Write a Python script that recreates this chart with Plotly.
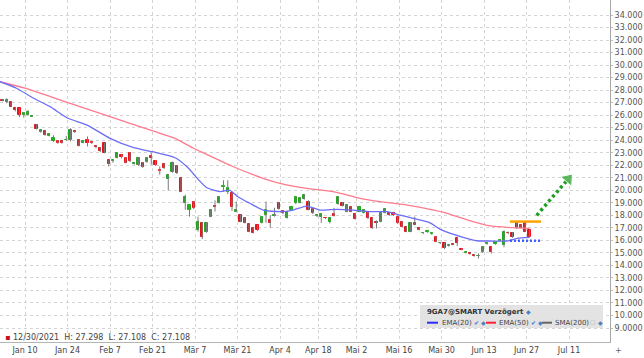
import pandas as pd
import plotly.graph_objects as go

# ---------------- data ----------------
holidays = ["2021-12-31", "2022-04-15", "2022-04-18"]
calendar = [d for d in pd.bdate_range("2021-12-30", "2022-07-29")
            if d.strftime("%Y-%m-%d") not in holidays]
cal_str = [d.strftime("%Y-%m-%d") for d in calendar]

opens = [27.20, 27.05, 27.07, 26.55, 26.55, 26.00, 26.02, 25.88, 25.20, 24.66,
         24.76, 24.36, 23.97, 23.95, 23.95, 23.98, 23.98, 24.72, 24.00, 23.80,
         24.00, 23.85, 23.52, 23.40, 23.78, 22.40, 22.35, 22.60, 22.80, 22.60,
         23.00, 22.10, 22.00, 22.20, 22.25, 22.70, 22.36, 21.65, 22.10, 20.90,
         21.48, 21.94, 21.00, 19.00, 18.40, 19.10, 16.83, 17.36, 16.70, 17.90,
         18.75, 19.00, 20.25, 19.90, 19.75, 18.30, 18.00, 17.80, 17.30, 17.00,
         17.20, 17.40, 18.00, 17.60, 17.98, 19.00, 18.37, 17.80, 18.40, 18.96,
         19.00, 19.30, 19.10, 18.50, 17.98, 17.90, 17.82, 17.50, 18.10, 18.90,
         19.00, 18.30, 18.66, 18.10, 18.30, 18.20, 18.30, 17.76, 17.45, 17.50,
         18.20, 18.20, 18.20, 17.84, 17.50, 17.10, 16.70, 17.35, 16.95, 16.58,
         16.66, 16.53, 16.30, 15.77, 15.76, 15.57, 15.72, 16.17, 15.33, 15.02,
         14.98, 14.85, 14.72, 15.10, 15.72, 15.45, 15.70, 15.98, 15.63, 16.62,
         16.60, 17.40, 17.20, 17.36, 16.80]
highs = [27.298, 27.35, 27.10, 26.60, 26.60, 26.25, 26.40, 25.95, 25.25, 24.82,
         24.80, 24.55, 24.40, 24.00, 23.98, 24.35, 24.95, 24.75, 24.05, 23.98,
         24.30, 23.90, 23.55, 23.45, 23.80, 22.45, 22.45, 23.00, 22.85, 22.65,
         23.05, 22.25, 22.65, 22.25, 22.65, 23.00, 22.40, 21.90, 22.15, 21.30,
         22.30, 22.00, 21.05, 19.65, 18.90, 19.15, 17.90, 17.45, 17.45, 18.50,
         19.20, 19.50, 20.80, 20.80, 19.80, 19.10, 18.05, 17.85, 17.35, 17.05,
         17.25, 17.95, 19.10, 18.00, 18.60, 19.05, 18.40, 18.35, 18.75, 19.55,
         19.45, 19.70, 19.20, 18.55, 18.05, 18.15, 17.85, 17.85, 18.60, 19.50,
         19.05, 18.85, 18.70, 18.15, 18.75, 18.45, 18.35, 17.80, 17.60, 18.20,
         18.55, 18.25, 18.25, 17.90, 17.55, 17.15, 17.45, 17.90, 17.00, 16.65,
         16.75, 16.60, 16.35, 15.85, 15.80, 15.65, 15.75, 16.20, 15.35, 15.10,
         15.00, 14.90, 14.95, 15.50, 15.85, 15.50, 15.95, 16.10, 16.80, 16.70,
         16.65, 17.45, 17.25, 17.45, 16.85]
lows = [27.108, 26.95, 26.65, 26.30, 25.85, 25.80, 25.95, 25.85, 24.85, 24.60,
        24.35, 24.30, 23.85, 23.72, 23.72, 23.95, 23.90, 24.58, 23.50, 23.75,
        23.50, 23.70, 23.35, 23.05, 22.95, 21.90, 22.20, 22.55, 22.55, 22.15,
        22.25, 22.05, 21.95, 21.80, 22.20, 22.05, 21.95, 21.25, 21.70, 20.00,
        21.40, 21.30, 19.85, 18.45, 17.90, 18.50, 16.70, 16.10, 16.60, 17.85,
        18.30, 18.95, 19.90, 19.70, 18.35, 18.25, 17.45, 17.35, 16.65, 16.55,
        16.75, 17.35, 17.40, 17.00, 17.90, 18.45, 18.10, 17.75, 18.35, 18.90,
        18.95, 19.25, 18.40, 18.10, 17.85, 17.40, 17.70, 17.35, 17.90, 18.85,
        18.70, 18.25, 18.25, 17.65, 18.25, 18.15, 17.70, 16.90, 16.95, 17.45,
        18.15, 17.95, 17.95, 17.30, 17.05, 16.65, 16.65, 17.20, 16.80, 16.50,
        16.60, 16.45, 15.85, 15.70, 15.30, 15.50, 15.60, 15.55, 15.20, 14.95,
        14.85, 14.70, 14.55, 15.00, 15.65, 14.95, 15.65, 15.90, 15.45, 16.50,
        16.20, 16.90, 16.95, 16.65, 16.25]
closes = [27.108, 27.25, 26.68, 26.38, 26.00, 26.15, 26.28, 25.92, 24.88, 24.78,
          24.42, 24.48, 24.18, 23.76, 23.76, 24.05, 24.80, 24.62, 23.55, 23.95,
          23.75, 23.76, 23.44, 23.10, 23.00, 22.10, 22.42, 22.98, 22.62, 22.20,
          22.30, 22.20, 22.60, 21.85, 22.60, 22.55, 22.00, 21.55, 21.75, 21.20,
          22.20, 21.36, 19.90, 19.50, 18.80, 18.55, 17.50, 16.30, 17.38, 18.43,
          18.65, 19.45, 20.35, 20.20, 18.70, 18.40, 17.50, 17.40, 16.70, 16.60,
          16.80, 17.90, 18.40, 17.35, 18.05, 18.50, 18.15, 18.30, 18.70, 19.50,
          19.40, 19.60, 18.43, 18.15, 18.03, 18.10, 17.75, 17.76, 17.95, 19.45,
          18.75, 18.80, 18.30, 17.70, 18.70, 18.40, 17.76, 16.96, 17.35, 18.15,
          18.50, 18.00, 18.02, 17.36, 17.10, 16.70, 17.40, 17.25, 16.85, 16.62,
          16.72, 16.58, 15.90, 15.82, 15.37, 15.62, 15.66, 15.77, 15.27, 15.08,
          14.92, 14.75, 14.78, 15.45, 15.78, 15.10, 15.90, 16.05, 16.70, 16.55,
          16.25, 16.96, 17.00, 16.70, 16.30]

# indicator lines (trading-day position, value)
ema20_pos = [-0.6, 3.3, 7.2, 11.2, 15.4, 19.9, 25.3, 30.7, 35.2, 40.6, 43.4,
             44.8, 45.8, 48.1, 51.2, 53.5, 55.4, 58.2, 61.3, 65.3, 68.4, 71.6,
             74.7, 78.7, 82.5, 86.5, 90.5, 93.5, 96.6, 100.6, 102.9, 108.4,
             111.6, 114.7, 118.7, 121.1, 124.0]
ema20_val = [28.67, 28.15, 27.37, 26.68, 25.75, 25.21, 24.15, 23.43, 23.08,
             22.60, 21.88, 21.36, 20.96, 20.20, 19.89, 20.00, 19.49, 18.96,
             18.42, 18.29, 18.42, 18.74, 18.42, 18.48, 18.42, 18.29, 18.29,
             18.02, 17.76, 17.40, 16.90, 16.24, 15.97, 15.95, 15.95, 16.16, 16.24]
ema50_pos = [-0.6, 5.3, 15.4, 25.3, 35.2, 40.6, 44.8, 48.8, 54.2, 61.3, 65.3,
             71.6, 77.8, 84.1, 88.8, 95.2, 100.6, 104.6, 110.7, 114.7, 120.1, 124.0]
ema50_val = [28.67, 28.15, 27.00, 25.88, 24.76, 24.15, 23.38, 22.75, 21.90,
             20.96, 20.56, 20.16, 19.89, 19.36, 19.09, 18.82, 18.48, 18.16,
             17.49, 17.15, 17.01, 16.95]

# drawn trend tools
resist_pos = [119.4, 126.7]
resist_val = [17.5, 17.5]
support_pos = [119.4, 126.5]
support_val = [15.97, 15.97]
arrow_pos = [125.7, 133.1]
arrow_val = [18.0, 20.9]

tick_dates = ["2022-01-10", "2022-01-24", "2022-02-07", "2022-02-21", "2022-03-07",
              "2022-03-21", "2022-04-04", "2022-04-18", "2022-05-02", "2022-05-16",
              "2022-05-30", "2022-06-13", "2022-06-27", "2022-07-11"]
tick_labels = ["Jan 10", "Jan 24", "Feb 7", "Feb 21", "Mär 7", "Mär 21", "Apr 4",
               "Apr 18", "Mai 2", "Mai 16", "Mai 30", "Jun 13", "Jun 27", "Jul 11"]
y_ticks = list(range(9, 35))
y_labels = ["9.0000"] + [f"{v}.000" for v in range(10, 35)]

info_text = "12/30/2021  H: 27.298  L: 27.108  C: 27.108"

# ---------------- figure ----------------
GREEN = "#22a61f"
RED = "#e3141c"
n = len(closes)
xi = list(range(n))


def tick_pos(date):
    for i, d in enumerate(cal_str):
        if d >= date:
            return i - 0.7
    return None


tickvals = [tick_pos(d) for d in tick_dates]

fig = go.Figure()

# wicks
wx, wy = [], []
for i, (h, l) in enumerate(zip(highs, lows)):
    wx += [i, i, None]
    wy += [l, h, None]
fig.add_trace(go.Scatter(x=wx, y=wy, mode="lines",
                         line=dict(color="#7a7a7a", width=1), hoverinfo="skip"))

# bodies
colors = [GREEN if c >= o else RED for o, c in zip(opens, closes)]
base = [min(o, c) for o, c in zip(opens, closes)]
height = [abs(c - o) for o, c in zip(opens, closes)]
fig.add_trace(go.Bar(x=xi, y=height, base=base, width=0.5,
                     marker=dict(color=colors, line=dict(color=colors, width=1))))

# EMA lines
fig.add_trace(go.Scatter(x=ema50_pos, y=ema50_val, mode="lines",
                         line=dict(color="#ff7b8c", width=1.3, shape="spline", smoothing=0.6)))
fig.add_trace(go.Scatter(x=ema20_pos, y=ema20_val, mode="lines",
                         line=dict(color="#6d6df5", width=1.3, shape="spline", smoothing=0.6)))

# drawings
fig.add_trace(go.Scatter(x=resist_pos, y=resist_val, mode="lines",
                         line=dict(color="#ffa200", width=2.5)))
fig.add_trace(go.Scatter(x=support_pos, y=support_val, mode="lines",
                         line=dict(color="#3f5cff", width=2.5, dash="2px,2px")))
fig.add_trace(go.Scatter(x=arrow_pos, y=arrow_val, mode="lines+markers",
                         line=dict(color="#1f9e22", width=3.5, dash="3px,3px"),
                         marker=dict(symbol=["circle", "triangle-up"], size=[0, 13],
                                     color="#1f9e22", angleref="previous")))

W, H = 610.0, 342.0


def px(x):
    return x / W


def py(y):
    return 1 - y / H


shapes = [
    dict(type="rect", xref="paper", yref="paper", x0=px(420), x1=px(603),
         y0=py(328), y1=py(305), fillcolor="#e3e3e3", line=dict(width=0), layer="above"),
    dict(type="line", xref="paper", yref="paper", x0=px(427), x1=px(438),
         y0=py(322.7), y1=py(322.7), line=dict(color="#2b2bff", width=2)),
    dict(type="line", xref="paper", yref="paper", x0=px(486), x1=px(496),
         y0=py(322.7), y1=py(322.7), line=dict(color="#ff2030", width=2)),
    dict(type="line", xref="paper", yref="paper", x0=px(542), x1=px(552),
         y0=py(322.7), y1=py(322.7), line=dict(color="#666666", width=2)),
]

ann = []


def add_text(x, y, text, size=7, color="#333", bold=False, anchor="left"):
    if bold:
        text = "<b>" + text + "</b>"
    ann.append(dict(x=px(x), y=py(y), xref="paper", yref="paper", text=text,
                    showarrow=False, xanchor=anchor, yanchor="middle",
                    font=dict(family="DejaVu Sans", size=size, color=color)))


add_text(425, 311.7, "9GA7@SMART Verzögert", size=7, color="#333", bold=True)
add_text(524, 311.7, "◆", size=6, color="#4a7fc0")
add_text(440, 322.7, "EMA(20)", size=7, color="#444")
add_text(472, 322.7, "✔", size=6, color="#2f6fd8")
add_text(479, 322.7, "◆", size=6, color="#4a7fc0")
add_text(497, 322.7, "EMA(50)", size=7, color="#444")
add_text(529, 322.7, "✔", size=6, color="#2f6fd8")
add_text(536, 322.7, "◆", size=6, color="#4a7fc0")
add_text(553, 322.7, "SMA(200)", size=7, color="#444")
add_text(588, 322.7, "☐", size=6, color="#b0b0b0")
add_text(596, 322.7, "◆", size=6, color="#4a7fc0")
add_text(3, 337.5, "<span style='color:#c8101a'>▪</span> " + info_text, size=8, color="#444")
add_text(613, 350, "+", size=8, color="#666")

fig.update_layout(
    width=644, height=358,
    margin=dict(l=0, r=34, t=0, b=16),
    plot_bgcolor="white", paper_bgcolor="white",
    showlegend=False, bargap=0,
    font=dict(family="DejaVu Sans", size=8, color="#444"),
    shapes=shapes, annotations=ann,
)
fig.update_xaxes(range=[-0.59, 142.94], tickvals=tickvals, ticktext=tick_labels,
                 showgrid=True, gridcolor="#d4d4d4", griddash="dot", gridwidth=1,
                 showline=True, linecolor="#b4b4b4", mirror=True, ticks="",
                 zeroline=False, tickfont=dict(size=8, color="#444"))
fig.update_yaxes(side="right", range=[7.882, 35.198], tickvals=y_ticks, ticktext=y_labels,
                 showgrid=True, gridcolor="#d4d4d4", griddash="dot", gridwidth=1,
                 showline=True, linecolor="#a8a8a8", ticks="outside", ticklen=2,
                 tickcolor="#c0c0c0", zeroline=False, tickfont=dict(size=8, color="#555"))

fig.write_html("out.html",
               config={"displayModeBar": False},
               post_script="document.body.style.margin='0';document.body.style.padding='0';")
